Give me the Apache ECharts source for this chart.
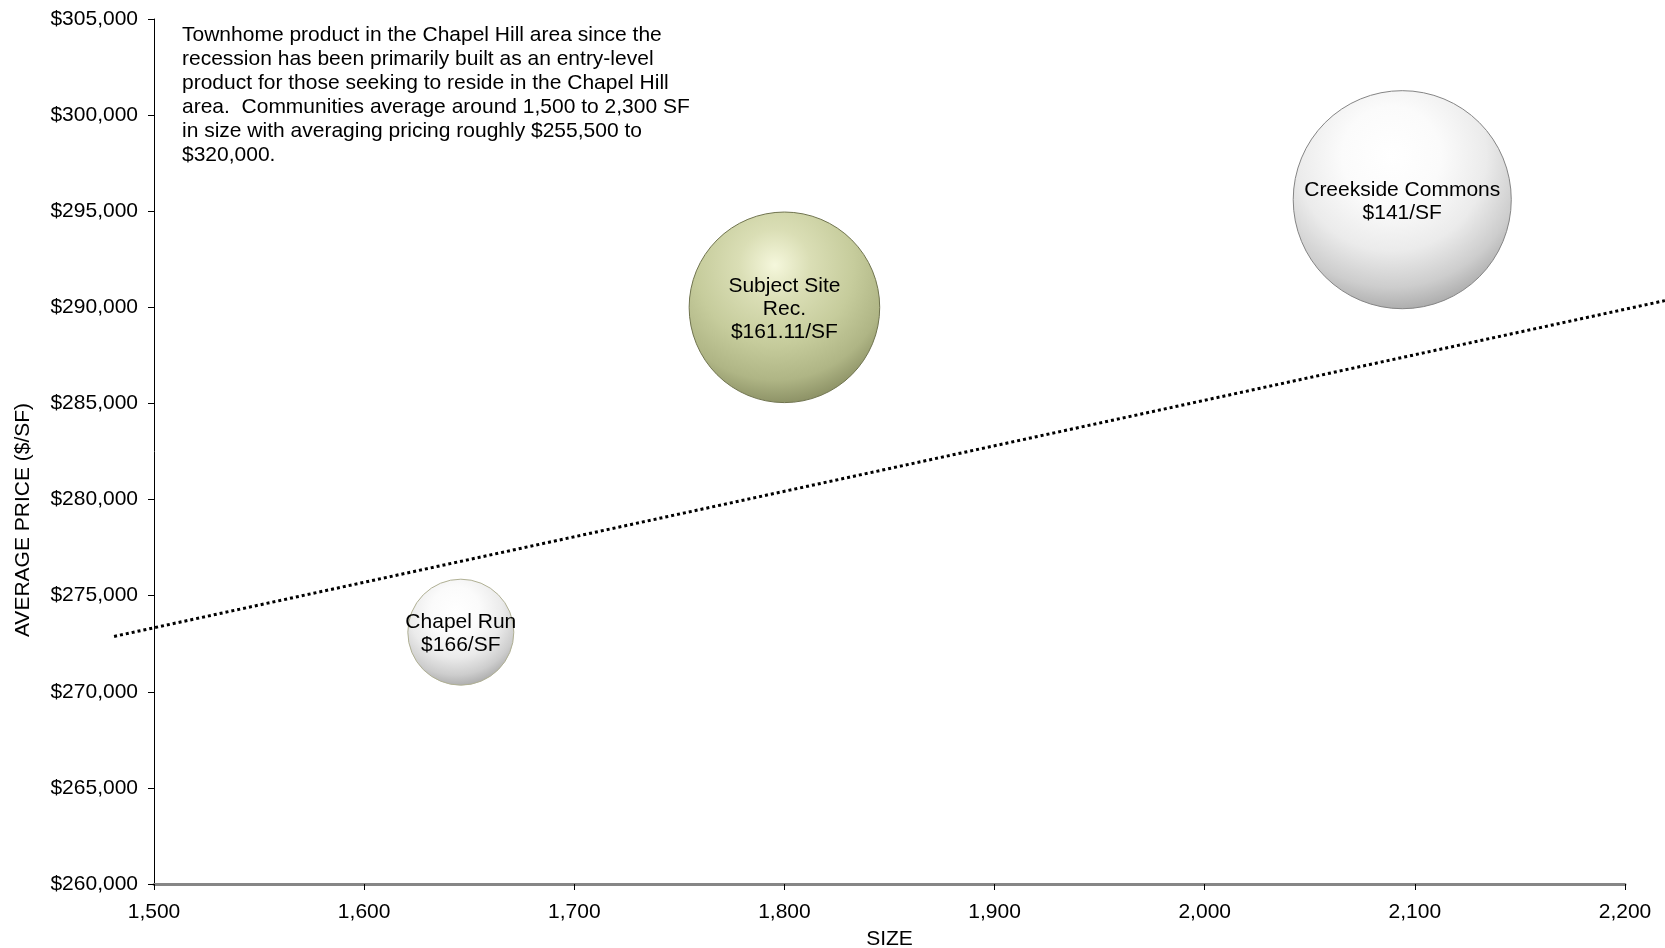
<!DOCTYPE html>
<html>
<head>
<meta charset="utf-8">
<script src="https://cdn.jsdelivr.net/npm/echarts@6/dist/echarts.min.js"></script>
<style>
html,body{margin:0;padding:0;background:#fff;}
#chart{width:1665px;height:948px;}
</style>
</head>
<body>
<div id="chart"></div>
<script>
// ---- data ----
const communityNames = ['Chapel Run', 'Subject Site\nRec.', 'Creekside Commons'];
const pricePerSF = ['$166/SF', '$161.11/SF', '$141/SF'];
const sizes = [1646, 1800, 2094];
const avgPrices = [273100, 290000, 295600];
const bubbleValues = [30, 97, 127];
const trendX = [1481, 2219];
const trendY = [272880, 290350];
const xTicks = [1500, 1600, 1700, 1800, 1900, 2000, 2100, 2200];
const yTicks = [260000, 265000, 270000, 275000, 280000, 285000, 290000, 295000, 300000, 305000];
const noteText = 'Townhome product in the Chapel Hill area since the\nrecession has been primarily built as an entry-level\nproduct for those seeking to reside in the Chapel Hill\narea.  Communities average around 1,500 to 2,300 SF\nin size with averaging pricing roughly $255,500 to\n$320,000.';

const FONT = 'Liberation Sans, Arial, sans-serif';
const FS = 21;
const chart = echarts.init(document.getElementById('chart'));

// main plot area
const G = {left: 154, right: 40, top: 19, bottom: 64};
const W = 1665;
const xMin = xTicks[0], xMax = xTicks[xTicks.length - 1];
const pxPerUnit = (W - G.left - G.right) / (xMax - xMin);
// trendline gets its own (hidden) grid spanning the trend's x-range on the same scale
const trendLeft = G.left - (xMin - trendX[0]) * pxPerUnit;
const trendRight = G.right - (trendX[1] - xMax) * pxPerUnit;

function grayBall() {
  return {
    type: 'radial', x: 0.45, y: 0.3, r: 0.75,
    colorStops: [
      {offset: 0, color: '#ffffff'},
      {offset: 0.3, color: '#fbfbfb'},
      {offset: 0.58, color: '#ebebeb'},
      {offset: 0.8, color: '#cdcdcd'},
      {offset: 1, color: '#9f9f9f'}
    ]
  };
}
function greenBall() {
  return {
    type: 'radial', x: 0.45, y: 0.28, r: 0.75,
    colorStops: [
      {offset: 0, color: '#f5f7dc'},
      {offset: 0.25, color: '#dadeb5'},
      {offset: 0.55, color: '#c6cc9c'},
      {offset: 0.8, color: '#afb585'},
      {offset: 1, color: '#858a5f'}
    ]
  };
}

const bubbleData = sizes.map((s, i) => ({
  name: communityNames[i],
  value: [s, avgPrices[i], bubbleValues[i]],
  itemStyle: {
    color: i === 1 ? greenBall() : grayBall(),
    borderColor: i === 1 ? '#6f734e' : (i === 0 ? '#b0b094' : '#858585'),
    borderWidth: 1,
    opacity: 1
  },
  label: {formatter: communityNames[i] + '\n' + pricePerSF[i]}
}));

const yAxisBase = {
  type: 'value', min: yTicks[0], max: yTicks[yTicks.length - 1], interval: 5000
};

const option = {
  animation: false,
  backgroundColor: '#ffffff',
  grid: [
    {left: G.left, right: G.right, top: G.top, bottom: G.bottom, containLabel: false, outerBoundsMode: 'none'},
    {left: trendLeft, right: trendRight, top: G.top, bottom: G.bottom, containLabel: false, outerBoundsMode: 'none'}
  ],
  xAxis: [
    {
      gridIndex: 0, type: 'value', min: xMin, max: xMax, interval: 100,
      name: 'SIZE', nameLocation: 'middle', nameGap: 45,
      nameTextStyle: {fontFamily: FONT, fontSize: FS, color: '#000'},
      axisLine: {show: true, lineStyle: {color: '#868686', width: 3}},
      axisTick: {show: true, length: 6, lineStyle: {color: '#000', width: 1}},
      axisLabel: {fontFamily: FONT, fontSize: FS, color: '#000', margin: 18,
        formatter: v => v.toLocaleString('en-US')},
      splitLine: {show: false}
    },
    {
      gridIndex: 1, type: 'value', min: trendX[0], max: trendX[1], show: false
    }
  ],
  yAxis: [
    Object.assign({}, yAxisBase, {
      gridIndex: 0,
      axisLine: {show: true, lineStyle: {color: '#000', width: 1}},
      axisTick: {show: true, length: 6, lineStyle: {color: '#000', width: 1}},
      axisLabel: {fontFamily: FONT, fontSize: FS, color: '#000', margin: 16,
        formatter: v => '$' + v.toLocaleString('en-US')},
      splitLine: {show: false}
    }),
    Object.assign({}, yAxisBase, {gridIndex: 1, show: false})
  ],
  graphic: [
    {
      type: 'text', left: 182, top: 23,
      style: {text: noteText, fontFamily: FONT, fontSize: FS, lineHeight: 24, fill: '#000'}
    },
    {
      type: 'text', x: 23, y: 520, rotation: Math.PI / 2,
      style: {text: 'AVERAGE PRICE ($/SF)', fontFamily: FONT, fontSize: FS, fill: '#000',
        align: 'center', verticalAlign: 'middle'}
    }
  ],
  series: [
    {
      type: 'line',
      xAxisIndex: 1, yAxisIndex: 1,
      data: trendX.map((x, i) => [x, trendY[i]]),
      symbol: 'none',
      clip: false,
      z: 1,
      lineStyle: {color: '#000', width: 3, type: [3, 3]}
    },
    {
      type: 'scatter',
      xAxisIndex: 0, yAxisIndex: 0,
      data: bubbleData,
      symbolSize: v => 19.35 * Math.sqrt(v[2]),
      z: 2,
      itemStyle: {opacity: 1},
      label: {show: true, position: 'inside', offset: [0, 2], color: '#000', fontFamily: FONT,
        fontSize: FS, lineHeight: 23, align: 'center'}
    }
  ]
};
chart.setOption(option);
</script>
</body>
</html>
